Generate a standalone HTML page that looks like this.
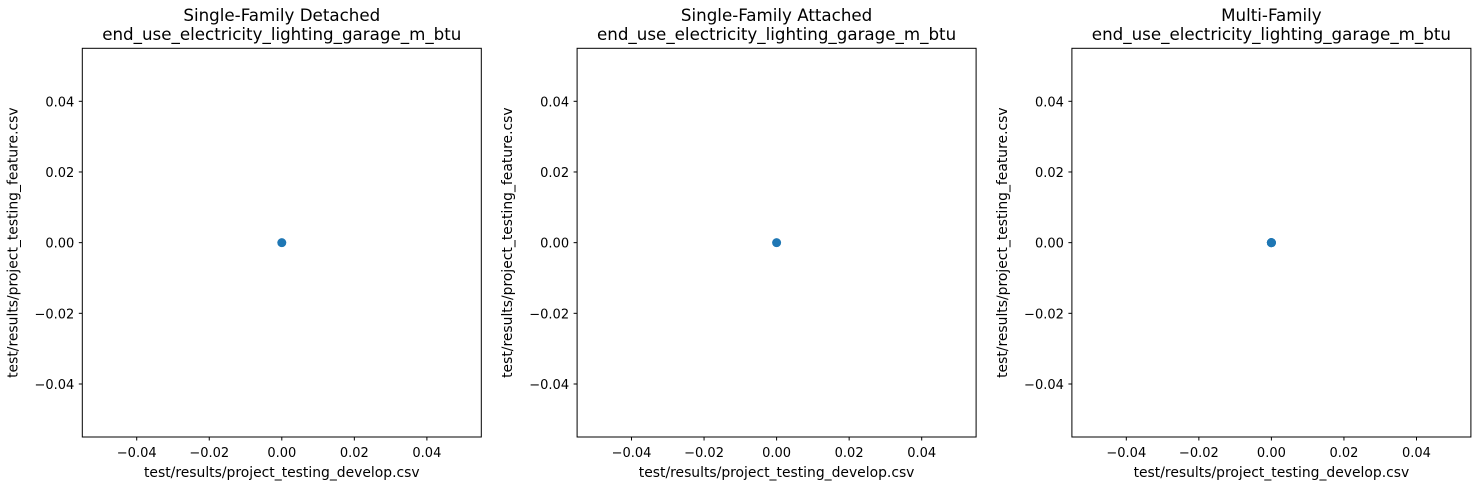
<!DOCTYPE html>
<html><head><meta charset="utf-8"><style>
body{margin:0;background:#fff;}
svg text{font-family:"DejaVu Sans","Liberation Sans",sans-serif;fill:#000;}
</style></head><body>
<svg id="fig" width="1481" height="490" xmlns="http://www.w3.org/2000/svg"></svg>
<script>
const panelTitles = ["Single-Family Detached", "Single-Family Attached", "Multi-Family"];
const metricName = "end_use_electricity_lighting_garage_m_btu";
const xValues = [[0], [0], [0, 0, 0, 0]];
const yValues = [[0], [0], [0, 0, 0, 0]];
const xTicks = [-0.04, -0.02, 0.00, 0.02, 0.04];
const yTicks = [-0.04, -0.02, 0.00, 0.02, 0.04];
const tickLabels = ["\u22120.04", "\u22120.02", "0.00", "0.02", "0.04"];
const xLabel = "test/results/project_testing_develop.csv";
const yLabel = "test/results/project_testing_feature.csv";

const NS = "http://www.w3.org/2000/svg";
const svgRoot = document.getElementById("fig");
function mk(tag, attrs, parent) {
  const e = document.createElementNS(NS, tag);
  for (const k in attrs) e.setAttribute(k, attrs[k]);
  (parent || svgRoot).appendChild(e);
  return e;
}
const lefts = [82.3, 577.1, 1071.9];
const plotW = 399, plotTop = 48.3, plotH = 388.7;
const dMin = -0.055, dMax = 0.055;
panelTitles.forEach((t, p) => {
  const L = lefts[p];
  const g = mk("g", {});
  
  
  const xs = v => L + (v - dMin) / (dMax - dMin) * plotW;
  const ys = v => plotTop + plotH - (v - dMin) / (dMax - dMin) * plotH;
  const fr = mk("rect", {x: L, y: plotTop, width: plotW, height: plotH, fill: "none", stroke: "#000", "stroke-width": 1}, g);
  
  
  const t1 = mk("text", {x: L + plotW / 2, y: 21, "text-anchor": "middle", "font-size": "16.7px"}, g);
  t1.textContent = t;
  
  
  const t2 = mk("text", {x: L + plotW / 2, y: 40, "text-anchor": "middle", "font-size": "16.7px"}, g);
  t2.textContent = metricName;
  
  
  xTicks.forEach((v, i) => {
    const x = xs(v);
    mk("line", {x1: x, x2: x, y1: plotTop + plotH, y2: plotTop + plotH + 3.5, stroke: "#000"}, g);
    const tx = mk("text", {x: x, y: plotTop + plotH + 20, "text-anchor": "middle", "font-size": "13px"}, g);
    tx.textContent = tickLabels[i];
    
    
  });
  yTicks.forEach((v, i) => {
    const y = ys(v);
    mk("line", {x1: L - 3.5, x2: L, y1: y, y2: y, stroke: "#000"}, g);
    const ty = mk("text", {x: L - 8, y: y + 5, "text-anchor": "end", "font-size": "13px"}, g);
    ty.textContent = tickLabels[i];
    
    
  });
  const xl = mk("text", {x: L + plotW / 2, y: 477, "text-anchor": "middle", "font-size": "13.9px"}, g);
  xl.textContent = xLabel;
  
  
  const yx = L - 65, yy = plotTop + plotH / 2;
  const yl = mk("text", {x: yx, y: yy, "text-anchor": "middle", "font-size": "13.9px", transform: `rotate(-90 ${yx} ${yy})`}, g);
  yl.textContent = yLabel;
  
  
  xValues[p].forEach((xv, i) => {
    const c = mk("circle", {cx: xs(xv), cy: ys(yValues[p][i]), r: 4.5, fill: "#1f77b4"}, g);
    
    
  });
});
</script>
</body></html>
